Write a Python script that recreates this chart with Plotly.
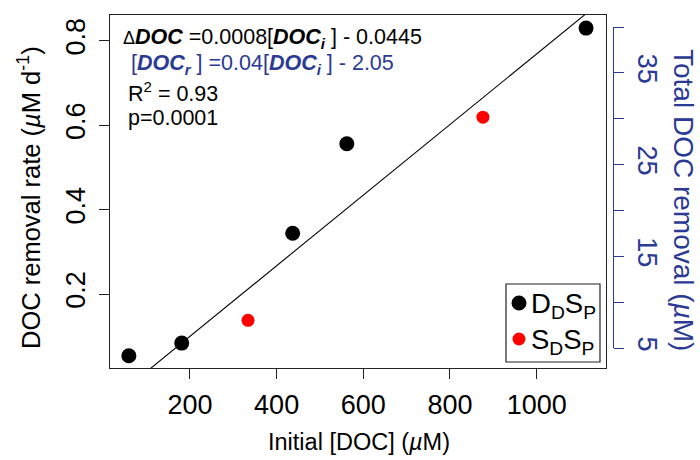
import numpy as np
import plotly.graph_objects as go

# ---------------- data ----------------
ddsp_doc_initial = [59, 181, 437, 562, 1114]             # Initial [DOC] (uM)
ddsp_removal_rate = [0.054, 0.084, 0.344, 0.556, 0.830]  # uM d-1
sdsp_doc_initial = [334, 876]
sdsp_removal_rate = [0.138, 0.619]
fit_slope = 0.000836
fit_intercept = -0.0672

x_ticks = [200, 400, 600, 800, 1000]
y_ticks = [0.2, 0.4, 0.6, 0.8]
y2_ticks = [5, 10, 15, 20, 25, 30, 35, 40]
y2_ticklabels = ["5", "", "15", "", "25", "", "35", ""]

series_names = ["D<sub>D</sub>S<sub>P</sub>", "S<sub>D</sub>S<sub>P</sub>"]
series_colors = ["black", "#FF0000"]
eq_lines = [
    "<span style='font-size:18px'>Δ</span><b><i>DOC</i></b> =0.0008[<b><i>DOC<sub>i</sub></i></b> ] - 0.0445",
    "[<b><i>DOC<sub>r</sub></i></b> ] =0.04[<b><i>DOC<sub>i</sub></i></b> ] - 2.05",
    "R<sup>2</sup> = 0.93",
    "p=0.0001",
]

# ---------------- layout geometry ----------------
W, H = 700, 460
L, R, T, B = 110, 613, 15, 368      # paper area in pixels
BOX_R = 606                          # right edge of plot box
x_range = [15.5, 1160]
y_range = [0.025, 0.861]
y2_range = [5, 40]
y2_top_px, y2_bot_px = 27, 348

FONT = "Liberation Sans, Arial, Helvetica, sans-serif"
BLUE = "#2B3A94"
BOX = "#222222"
TICK_SIZE = 27


def px2x(px):
    return (px - L) / (R - L)


def py2y(py):
    return (B - py) / (B - T)


fig = go.Figure()

# regression line across the full x range (clipped by the plot area)
xl = np.array(x_range)
fig.add_trace(go.Scatter(x=xl, y=fit_slope * xl + fit_intercept, mode="lines",
                         line=dict(color="black", width=1.1), showlegend=False,
                         hoverinfo="skip"))

fig.add_trace(go.Scatter(x=ddsp_doc_initial, y=ddsp_removal_rate, mode="markers",
                         name=series_names[0], showlegend=False,
                         marker=dict(color=series_colors[0], size=15, line=dict(width=0))))
fig.add_trace(go.Scatter(x=sdsp_doc_initial, y=sdsp_removal_rate, mode="markers",
                         name=series_names[1], showlegend=False,
                         marker=dict(color=series_colors[1], size=13, line=dict(width=0))))

# dummy trace so that the secondary axis is drawn
fig.add_trace(go.Scatter(x=[None], y=[None], yaxis="y2", showlegend=False,
                         hoverinfo="skip"))

fig.update_layout(
    width=W, height=H,
    margin=dict(l=L, r=W - R, t=T, b=H - B, pad=0),
    paper_bgcolor="white", plot_bgcolor="rgba(0,0,0,0)",
    font=dict(family=FONT, color="black"),
    xaxis=dict(domain=[0, px2x(BOX_R)], range=x_range, tickvals=x_ticks,
               ticks="outside", ticklen=10, tickwidth=1, tickcolor=BOX,
               showline=True, linecolor=BOX, linewidth=1.2, mirror=True,
               showgrid=False, zeroline=False, tickfont=dict(size=TICK_SIZE),
               ticklabelstandoff=2),
    yaxis=dict(domain=[0, 1], range=y_range, tickvals=y_ticks,
               ticktext=[str(v) for v in y_ticks],
               ticks="outside", ticklen=10, tickwidth=1, tickcolor=BOX,
               showline=True, linecolor=BOX, linewidth=1.2, mirror=True,
               showgrid=False, zeroline=False, tickangle=-90,
               tickfont=dict(size=TICK_SIZE), ticklabelstandoff=3),
    yaxis2=dict(anchor="free", position=1, side="right",
                domain=[py2y(y2_bot_px), py2y(y2_top_px)], range=y2_range,
                tickvals=y2_ticks, ticktext=y2_ticklabels,
                ticks="outside", ticklen=10, tickwidth=1.2, tickcolor=BLUE,
                showline=True, linecolor=BLUE, linewidth=1.2,
                showgrid=False, zeroline=False, tickangle=90,
                tickfont=dict(size=TICK_SIZE, color=BLUE), ticklabelstandoff=3),
    showlegend=False,
)

annotations = []
shapes = []
# equation block
line_y = [38, 65, 92, 118]
line_x = [121, 129, 126, 126]
line_col = ["black", BLUE, "black", "black"]
for txt, xx, yy, cc in zip(eq_lines, line_x, line_y, line_col):
    annotations.append(dict(text=txt, xref="paper", yref="paper", x=px2x(xx), y=py2y(yy),
                            xanchor="left", yanchor="middle", showarrow=False,
                            font=dict(size=21.5, color=cc, family=FONT)))

# legend box (drawn by hand to match the reference layout)
shapes.append(dict(type="rect", xref="paper", yref="paper",
                   x0=px2x(506), x1=px2x(600), y0=py2y(362), y1=py2y(284),
                   line=dict(color=BOX, width=1.2), fillcolor="white", layer="above"))
leg_y = [303, 339]
leg_size = [15, 13]
for name, col, yy, sz in zip(series_names, series_colors, leg_y, leg_size):
    shapes.append(dict(type="circle", xref="paper", yref="paper",
                       xsizemode="pixel", ysizemode="pixel",
                       xanchor=px2x(519), yanchor=py2y(yy),
                       x0=-sz / 2, x1=sz / 2, y0=-sz / 2, y1=sz / 2,
                       fillcolor=col, line=dict(width=0), layer="above"))
    annotations.append(dict(text=name, xref="paper", yref="paper",
                            x=px2x(529), y=py2y(yy + 2), xanchor="left", yanchor="middle",
                            showarrow=False, font=dict(size=27.5)))

# axis titles
annotations.append(dict(text="Initial [DOC] (<i>µ</i>M)", xref="paper", yref="paper",
                        x=px2x(359), y=py2y(442), xanchor="center", yanchor="middle",
                        showarrow=False, font=dict(size=23.5)))
annotations.append(dict(text="DOC removal rate (<i>µ</i>M d<sup>-1</sup>)", xref="paper",
                        yref="paper", x=px2x(29), y=py2y(198), xanchor="center",
                        yanchor="middle", textangle=-90, showarrow=False,
                        font=dict(size=25.5)))
annotations.append(dict(text="Total DOC removal (<i>µ</i>M)", xref="paper", yref="paper",
                        x=px2x(684), y=py2y(200), xanchor="center", yanchor="middle",
                        textangle=90, showarrow=False, font=dict(size=28, color=BLUE)))
fig.update_layout(annotations=annotations, shapes=shapes)

fig.write_html("out.html")
